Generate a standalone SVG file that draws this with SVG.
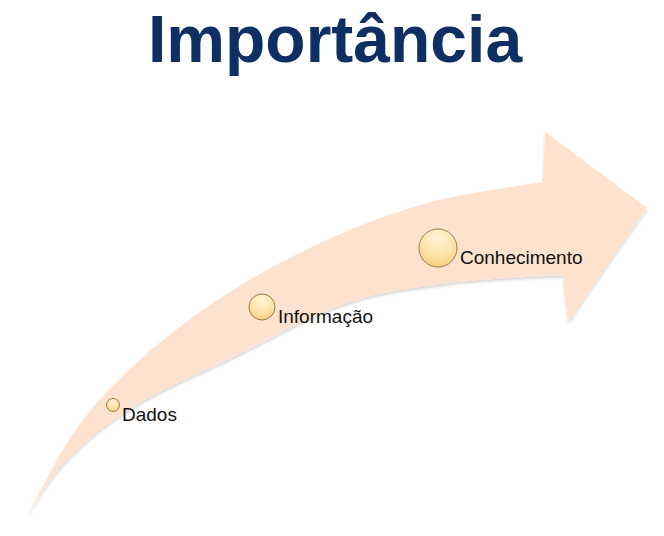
<svg xmlns="http://www.w3.org/2000/svg" width="664" height="536" viewBox="0 0 664 536">
  <defs>
    <radialGradient id="dot" cx="0.5" cy="0.25" r="0.8">
      <stop offset="0" stop-color="#fff4d6"/>
      <stop offset="0.6" stop-color="#fde2a6"/>
      <stop offset="1" stop-color="#f8c878"/>
    </radialGradient>
    <filter id="sh" x="-10%" y="-10%" width="120%" height="130%">
      <feDropShadow dx="0" dy="2" stdDeviation="1.5" flood-color="#000" flood-opacity="0.18"/>
    </filter>
  </defs>
  <style>
    .title { font-family: "Liberation Sans", Arial, sans-serif; font-weight: bold; font-size: 66px; fill: #0e2f63; }
    .lbl { font-family: "Liberation Sans", Arial, sans-serif; font-size: 19px; fill: #111; }
    .dot { fill: url(#dot); stroke: #9c7a48; stroke-width: 1; }
    .band { fill: #fde3cf; }
  </style>
  <rect width="664" height="536" fill="#ffffff"/>
  <g id="title">
    <text class="title" x="148" y="62">Importância</text>
  </g>
  <g id="connectors">
    <path class="band" filter="url(#sh)" d="M28,515 C37.2,499.2 59.8,449.7 83,420 C106.2,390.3 134.2,363.2 167,337 C199.8,310.8 238.8,284.7 280,263 C321.2,241.3 369.2,220.5 413,207 C456.8,193.5 521.3,186.2 543,182 L545,132 L647,208 L568,322 L563,275 C544.2,276.3 486,278.3 450,283 C414,287.7 383.2,290.7 347,303 C310.8,315.3 268.7,339.7 233,357 C197.3,374.3 160.7,389.8 133,407 C105.3,424.2 84.5,442 67,460 C49.5,478 34.5,505.8 28,515 Z"/>
  </g>
  <g id="dados">
    <circle class="dot" cx="113" cy="405" r="6.5"/>
    <text class="lbl" x="122" y="421">Dados</text>
  </g>
  <g id="informacao">
    <circle class="dot" cx="262" cy="307" r="13"/>
    <text class="lbl" x="278" y="323">Informação</text>
  </g>
  <g id="conhecimento">
    <circle class="dot" cx="438" cy="248" r="19"/>
    <text class="lbl" x="460" y="264">Conhecimento</text>
  </g>
</svg>
